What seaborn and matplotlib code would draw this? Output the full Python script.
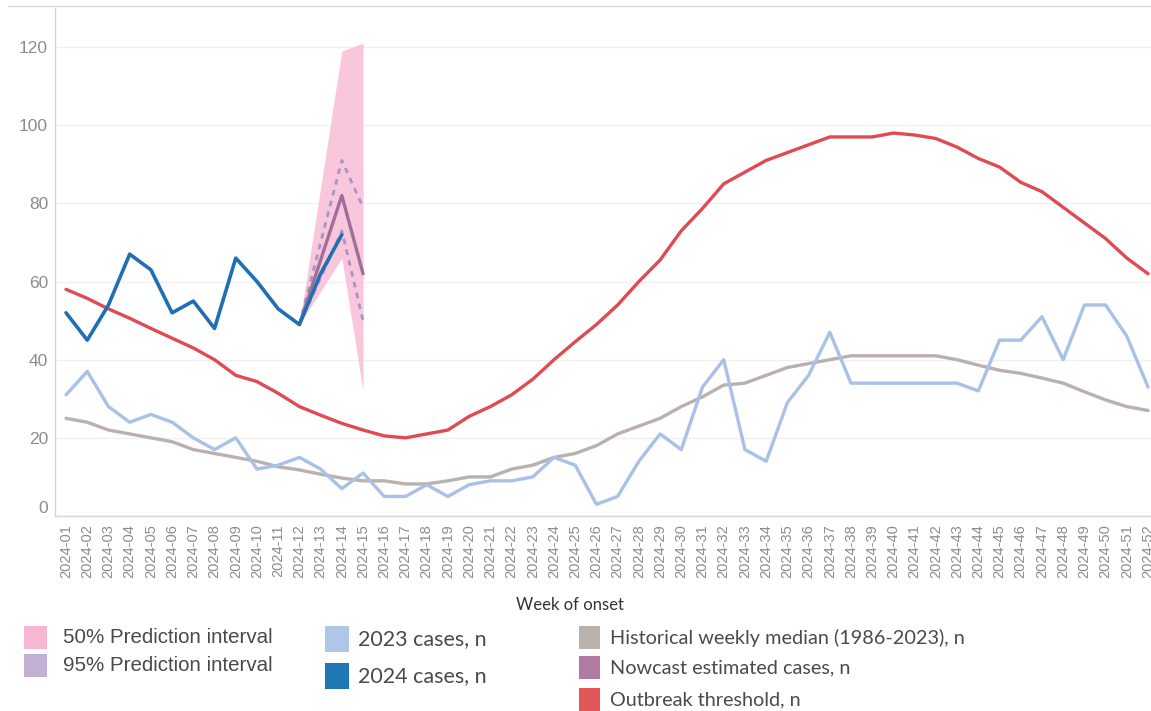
import matplotlib.pyplot as plt
import seaborn as sns
from matplotlib.patches import Rectangle
from matplotlib.lines import Line2D

# weekly data
weeks = list(range(1, 53))
week_labels = [f"2024-{w:02d}" for w in weeks]

cases_2023 = [31, 37, 28, 24, 26, 24, 20, 17, 20, 12, 13, 15, 12, 7, 11, 5, 5, 8,
              5, 8, 9, 9, 10, 15, 13, 3, 5, 14, 21, 17, 33, 40, 17, 14, 29, 36,
              47, 34, 34, 34, 34, 34, 34, 32, 45, 45, 51, 40, 54, 54, 46, 33]

hist_median = [25, 24, 22, 21, 20, 19, 17, 16, 15, 14, 12.6, 11.8, 10.7, 9.7, 9, 9,
               8.2, 8.2, 9, 10, 10, 12, 13, 15, 16, 18, 21, 23, 25, 28, 30.5, 33.5,
               34, 36, 38, 39, 40, 41, 41, 41, 41, 41, 40, 38.6, 37.3, 36.5, 35.3,
               34, 31.8, 29.7, 28, 27]

threshold = [58, 55.7, 53, 50.6, 48, 45.5, 43, 40, 36, 34.4,
             31.4, 28, 25.8, 23.7, 22, 20.5, 20, 21, 22, 25.5,
             28, 31, 35, 40, 44.6, 49, 54, 60, 65.5, 73,
             78.7, 85, 88, 91, 93, 95, 97, 97, 97, 98,
             97.5, 96.6, 94.4, 91.5, 89.3, 85.4, 83, 79, 75, 71,
             66, 62]

weeks_2024 = weeks[:14]
cases_2024 = [52, 45, 54, 67, 63, 52, 55, 48, 66, 60, 53, 49, 62, 72]

nowcast_weeks = [12, 13, 14, 15]
nowcast = [49, 65.5, 82, 62]
pi95_low = [49, 61, 73, 50]
pi95_high = [49, 70, 91, 79]
pi50_low = [49, 57.5, 66, 32]
pi50_high = [49, 84, 119, 121]

W, H = 1151, 711

sns.set_theme(style="white")
plt.rcParams['font.family'] = ['Liberation Sans', 'DejaVu Sans']

fig = plt.figure(figsize=(W / 100, H / 100), dpi=100)
ax = fig.add_axes([55 / W, 1 - 516 / H, 1 - 55 / W, (516 - 8) / H])

# prediction band + series
ax.fill_between(nowcast_weeks, pi50_low, pi50_high, color='#f9c6dc', lw=0, zorder=1)
sns.lineplot(x=weeks, y=hist_median, color='#bab0ac', lw=2.4, ax=ax, zorder=2)
sns.lineplot(x=weeks, y=cases_2023, color='#a9c1e6', lw=2.4, ax=ax, zorder=2)
sns.lineplot(x=weeks, y=threshold, color='#e04a52', lw=2.4, ax=ax, zorder=3)
sns.lineplot(x=nowcast_weeks, y=pi95_high, color='#a596c8', lw=2.0,
             linestyle=(0, (2, 2)), ax=ax, zorder=4)
sns.lineplot(x=nowcast_weeks, y=pi95_low, color='#a596c8', lw=2.0,
             linestyle=(0, (2, 2)), ax=ax, zorder=4)
sns.lineplot(x=nowcast_weeks, y=nowcast, color='#9f6f98', lw=2.4, ax=ax, zorder=5)
sns.lineplot(x=weeks_2024, y=cases_2024, color='#1f6fb2', lw=2.6, ax=ax, zorder=6)

ax.set_xlim(0.48, 52.14)
ax.set_ylim(0, 130)
ax.set_yticks(range(0, 121, 20))
ax.set_xticks(weeks)
ax.set_xticklabels(week_labels, rotation=90)
ax.tick_params(axis='x', length=0, pad=6, labelsize=10.5, labelcolor='#8c8c8c')
ax.tick_params(axis='y', length=0, pad=5, labelsize=12.5, labelcolor='#8c8c8c')
ax.get_yticklabels()[0].set_va('bottom')
ax.yaxis.grid(True, color='#f0f0f0', lw=1)
ax.set_axisbelow(True)
for side in ['top', 'right']:
    ax.spines[side].set_visible(False)
for side in ['left', 'bottom']:
    ax.spines[side].set_color('#d4d4d4')
    ax.spines[side].set_linewidth(1)

ax.set_xlabel('Week of onset', family='Lato', fontsize=12, color='#333333')
ax.xaxis.set_label_coords((570 - 55) / (W - 55), -(597 - 516) / 508)

# thin frame line along the top
fig.add_artist(Line2D([8 / W, 1], [1 - 6 / H, 1 - 6 / H], color='#dcdcdc', lw=1,
                      transform=fig.transFigure))


def legend_col(labels, colors, x, ys, size, gap, font, fsize):
    for lab, col, y in zip(labels, colors, ys):
        fig.add_artist(Rectangle((x / W, 1 - (y + size[1]) / H), size[0] / W, size[1] / H,
                                 color=col, lw=0, transform=fig.transFigure))
        fig.text((x + size[0] + gap) / W, 1 - (y + size[1] / 2) / H, lab, family=font,
                 fontsize=fsize, color='#4a4a4a', va='center', ha='left')


legend_col(['50% Prediction interval', '95% Prediction interval'],
           ['#f7b6d2', '#c5b0d5'], 24, [626, 654], (23, 23), 16, 'Liberation Sans', 14.8)
legend_col(['2023 cases, n', '2024 cases, n'],
           ['#aec7e8', '#1f77b4'], 325, [626, 663], (24, 26), 9, 'Lato', 15.5)
legend_col(['Historical weekly median (1986-2023), n', 'Nowcast estimated cases, n',
            'Outbreak threshold, n'],
           ['#bab0ac', '#b07aa1', '#e15759'], 579, [626, 656, 688], (21, 23), 10, 'Lato', 14.3)

fig.savefig('out.png', dpi=100)
